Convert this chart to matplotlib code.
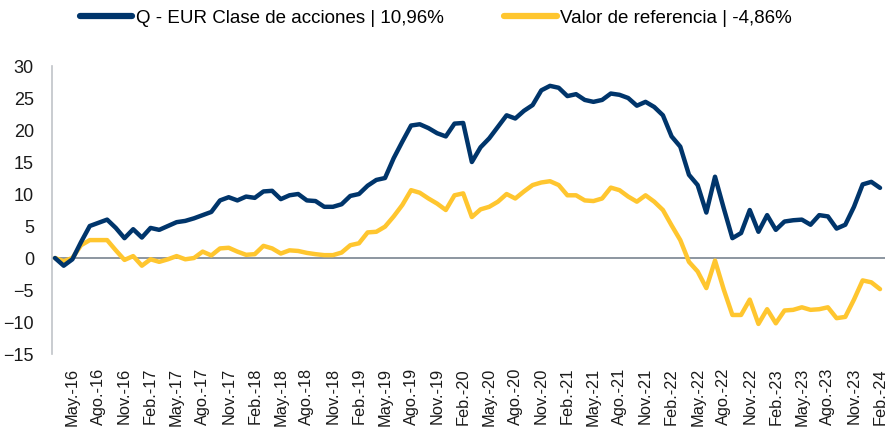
import matplotlib
matplotlib.use("Agg")
import matplotlib.pyplot as plt
import numpy as np

# monthly series, Mar 2016 .. Feb 2024
fund = [0.0, -1.2, -0.2, 2.5, 5.0, 5.5, 6.0, 4.7, 3.1, 4.5, 3.2, 4.7,
        4.4, 5.0, 5.6, 5.8, 6.2, 6.7, 7.2, 9.0, 9.5, 9.0, 9.6, 9.4,
        10.4, 10.5, 9.2, 9.8, 10.0, 9.0, 8.9, 8.0, 8.0, 8.4, 9.7, 10.0,
        11.3, 12.2, 12.5, 15.6, 18.2, 20.7, 20.9, 20.3, 19.5, 19.0, 21.0, 21.1,
        15.0, 17.3, 18.7, 20.5, 22.3, 21.8, 23.0, 23.9, 26.2, 26.9, 26.6, 25.3,
        25.6, 24.7, 24.4, 24.7, 25.7, 25.5, 25.0, 23.8, 24.4, 23.6, 22.3, 19.0,
        17.4, 13.0, 11.4, 7.1, 12.7, 7.8, 3.1, 3.9, 7.5, 4.1, 6.7, 4.4,
        5.7, 5.9, 6.0, 5.2, 6.7, 6.5, 4.6, 5.2, 8.0, 11.5, 11.9, 10.96]

bench = [0.0, -0.5, 0.0, 2.0, 2.8, 2.8, 2.8, 1.2, -0.3, 0.3, -1.2, -0.2,
         -0.6, -0.2, 0.3, -0.2, 0.0, 1.0, 0.4, 1.5, 1.6, 1.0, 0.5, 0.6,
         1.9, 1.5, 0.7, 1.2, 1.1, 0.8, 0.6, 0.45, 0.45, 0.85, 2.0, 2.3,
         4.0, 4.1, 4.9, 6.5, 8.3, 10.6, 10.2, 9.3, 8.5, 7.5, 9.8, 10.1,
         6.4, 7.6, 8.0, 8.8, 10.0, 9.3, 10.4, 11.4, 11.8, 12.0, 11.4, 9.8,
         9.8, 9.0, 8.9, 9.3, 11.0, 10.6, 9.6, 8.8, 9.8, 8.8, 7.5, 5.1,
         2.8, -0.6, -2.1, -4.7, -0.4, -4.9, -8.9, -8.9, -6.5, -10.3, -8.0, -10.2,
         -8.2, -8.1, -7.7, -8.1, -8.0, -7.7, -9.4, -9.2, -6.5, -3.5, -3.8, -4.86]

months = ["May.", "Ago.", "Nov.", "Feb."]
tick_labels = []
for k in range(32):
    m = 2 + 3 * k
    yr = 16 + (m + 2) // 12
    tick_labels.append(months[k % 4] + "-" + str(yr))
tick_pos = [2 + 3 * k for k in range(32)]

blue = "#00356B"
yellow = "#FFC62F"

plt.rcParams['font.family'] = ['Liberation Sans', 'DejaVu Sans']
fig = plt.figure(figsize=(8.87, 4.34), dpi=100)
ax = fig.add_axes([0.0586, 0.1843, 0.9394, 0.6636])

x = np.arange(len(fund))
ax.axhline(0, color="#8C96A0", lw=1.4, zorder=1)
l1, = ax.plot(x, fund, color=blue, lw=3.2, solid_joinstyle="round",
              solid_capstyle="round", zorder=3,
              label="Q - EUR Clase de acciones | 10,96%")
l2, = ax.plot(x, bench, color=yellow, lw=3.2, solid_joinstyle="round",
              solid_capstyle="round", zorder=2,
              label="Valor de referencia | -4,86%")

ax.set_xlim(-0.35, 95.6)
ax.set_ylim(-15, 30)
ax.set_yticks(range(-15, 31, 5))
ax.set_xticks(tick_pos)
ax.set_xticklabels(tick_labels, rotation=90, fontsize=11.8, color="#1a1a1a")
ax.tick_params(axis="y", labelsize=13, colors="#1a1a1a", length=0, pad=13)
ax.tick_params(axis="x", length=0, pad=10)
for s in ["top", "right", "bottom"]:
    ax.spines[s].set_visible(False)
ax.spines["left"].set_color("#C0C4C8")
ax.spines["left"].set_linewidth(1.2)

leg = fig.legend(handles=[l1, l2], loc="center", bbox_to_anchor=(436 / 887, 1 - 18 / 434),
                 ncol=2, frameon=False, fontsize=13.5, handlelength=2.8,
                 handletextpad=0.2, columnspacing=3.2)
for h in leg.legend_handles:
    h.set_linewidth(4.5)
    h.set_solid_capstyle("round")

fig.savefig("out.png", dpi=100)
